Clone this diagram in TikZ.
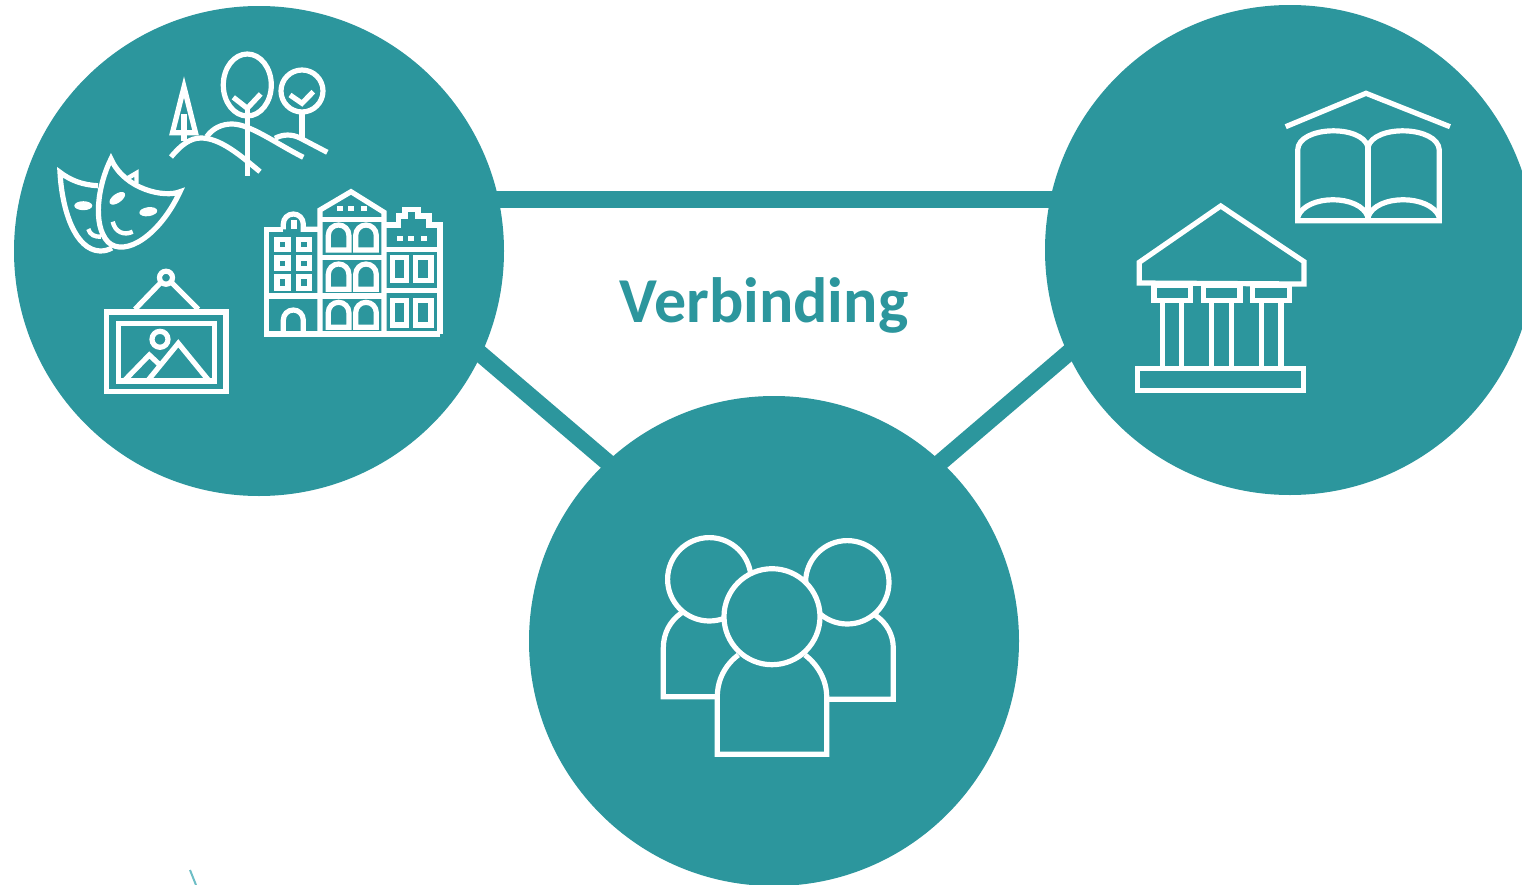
\documentclass[tikz,border=0pt]{standalone}
\usepackage{fontspec}
\setmainfont{Carlito}
\definecolor{tealfill}{RGB}{44,150,157}
\definecolor{tealtick}{RGB}{110,190,198}
\tikzset{every picture/.style={line width=0.75pt}}
\tikzset{
  hub/.style={circle,fill=tealfill,inner sep=0pt,minimum size=367.5pt},
  linkline/.style={draw=tealfill,line width=12.75pt,shorten >=-6pt,shorten <=-6pt},
  iconline/.style={draw=white,line width=3.9pt,line join=miter},
  iconthin/.style={draw=white,line width=3.3pt,line join=miter},
  iconhead/.style={draw=white,fill=tealfill,line width=3.9pt}
}

\begin{document}
\begin{tikzpicture}[x=0.75pt,y=0.75pt,yscale=-1,xscale=1]
\clip (0,0) rectangle (1522,885);

% Circles
\draw (259,251) node [hub] (culture) {};
\draw (1290,250) node [hub] (heritage) {};
\draw (774,641) node [hub] (people) {};

%Straight Lines
\draw [linkline] (culture.12) -- (culture.12 -| heritage.west);
\draw [linkline] (culture.-25.1) -- (people.133);
\draw [linkline] (heritage.205.2) -- (people.47.4);

% Text Node
\draw (764,305.5) node [inner sep=0.75pt,text=tealfill,font=\fontsize{48}{48}\selectfont\bfseries] (verbinding) {Verbinding};

%Small tick
\coordinate (tickA) at (190,870);
\coordinate (tickB) at (196,885);
\draw [draw=tealtick,line width=1.5pt] (tickA) -- (tickB);

%Trees and hills
\draw [iconline] (247.3,85) ellipse [x radius=24,y radius=31];
\draw [iconline] (247.3,107) -- (247.3,176);
\draw [iconline] (233.3,97.3) -- (247.3,108.3) -- (260.7,94);
\draw [iconline] (302,91) circle [radius=21];
\draw [iconline] (302,110) -- (302,138);
\draw [iconline] (290,95) -- (302,103.3) -- (313.3,91.7);
\draw [iconline] (184,87) -- (172.5,132.7) -- (195.5,132.7) -- cycle;
\draw [iconline] (184,114) -- (184,141);
\draw [iconline] (171,157) .. controls (181,145) and (190,138) .. (201,138) .. controls (220,138) and (240,155) .. (260,171.7);
\draw [iconline] (206.7,136.7) .. controls (213,128) and (222,124) .. (232,124) .. controls (250,124) and (275,143) .. (303.3,157.3);
\draw [iconline] (275,138.3) .. controls (283,134) and (292,134) .. (300,138) -- (327.3,152.3);

%Masks
\draw [iconline] (98,185.7) .. controls (82,185) and (70,180) .. (60,172.3) .. controls (62,210) and (75,250) .. (100,251) .. controls (105,251) and (108,250) .. (112,248);
\draw [iconline,fill=tealfill] (111,159) .. controls (98,185) and (92,225) .. (108,242) .. controls (125,258) and (160,235) .. (180,191.7) .. controls (165,198) and (125,190) .. (111,159) -- cycle;
\draw [iconthin] (128,178) -- (136.5,173) -- (136.5,183);
\fill [white] (83.3,205.7) ellipse [x radius=9,y radius=4.5];
\fill [white,rotate around={-35:(117.3,198.3)}] (117.3,198.3) ellipse [x radius=9,y radius=4.5];
\fill [white,rotate around={-8:(148.3,211.7)}] (148.3,211.7) ellipse [x radius=9,y radius=4.5];
\draw [iconthin] (112.7,221.7) .. controls (115,232) and (124,236) .. (132.7,231.7);
\draw [iconthin] (88.3,229) .. controls (90,235) and (95,237) .. (101,236.7);

%Framed picture
\draw [iconline] (106.7,312) rectangle (226,391.7);
\draw [iconline] (118.3,323.3) rectangle (214.3,381);
\draw [iconline] (166,277.7) circle [radius=6.5];
\draw [iconline] (135,309.3) -- (160.7,282.7);
\draw [iconline] (198.3,309.3) -- (171.7,282.7);
\draw [iconline] (160,339.3) circle [radius=8];
\draw [iconline] (148.3,380) -- (178.3,343.3) -- (208.3,380);
\draw [iconline] (125,380) -- (149.3,355) -- (160,365);

%Left house
\draw [iconline] (283.3,229.3) -- (266.7,229.3) -- (266.7,334) -- (440,334);
\draw [iconline] (283.3,229.3) -- (283.3,224) arc [start angle=180,end angle=360,radius=10] -- (303.3,229.3) -- (320,229.3);
\fill [white] (290.5,220) rectangle (296.5,229);
\foreach \wx in {277,298.5}
  \foreach \wy/\wh in {239.3/10.5,258/10.5,276.7/12}
    \draw [iconline] (\wx,\wy) rectangle ++(11,\wh);
\draw [iconline] (266.7,296) -- (384,296);
\draw [iconline] (283.3,334) -- (283.3,320) arc [start angle=180,end angle=360,radius=10] -- (303.3,334);

%Middle house
\draw [iconline] (320,334) -- (320,210) -- (351,191.7) -- (384,212.3) -- (384,334);
\draw [iconline] (320,219.3) -- (384,219.3);
\draw [iconline] (320,257.3) -- (384,257.3);
\foreach \sx in {340,351,364}
  \fill [white] (\sx-2.8,205.6) rectangle (\sx+2.8,211);
\foreach \wx in {328.3,355.7}
  \foreach \wy/\wb in {225/250,264/289.3,302.3/327.3}
    \draw [iconline] (\wx,\wb) -- (\wx,\wy+10.3) arc [start angle=180,end angle=360,radius=10.3] -- (\wx+20.6,\wb) -- cycle;

%Right house
\draw [iconline] (384,225) -- (398.3,225) -- (398.3,216) -- (405,216) -- (405,209.5) -- (418,209.5) -- (418,216) -- (429,216) -- (429,225) -- (440,225) -- (440,334);
\draw [iconline] (384,249.3) -- (440,249.3);
\draw [iconline] (384,290.7) -- (440,290.7);
\foreach \sx in {400,410.7,424}
  \fill [white] (\sx-2.8,235.6) rectangle (\sx+2.8,241);
\foreach \wx/\ww in {392.3/14.4,415.7/15.3}
  \foreach \wy/\wh in {257.7/23,300.7/24.3}
    \draw [iconline] (\wx,\wy) rectangle ++(\ww,\wh);

%Book
\draw [iconline] (1285.7,126.7) -- (1366,93.3) -- (1450,126.7);
\draw [iconline] (1297.7,220.7) -- (1297.7,150) .. controls (1298,126) and (1362,124) .. (1368,147) .. controls (1374,124) and (1438,126) .. (1439.3,150) -- (1439.3,220.7) -- cycle;
\draw [iconline] (1368,147) -- (1368,222);
\draw [iconline] (1297.7,217) .. controls (1306,194) and (1360,194) .. (1368,217) .. controls (1376,194) and (1430,194) .. (1439.3,217);

%Temple
\draw [iconline] (1139.3,283) -- (1139.3,262.3) -- (1220.7,206) -- (1304,261.7) -- (1304,284) -- cycle;
\foreach \cx in {1154,1203.3,1252.7}
  \draw [iconline] (\cx,285) rectangle ++(36.7,15.7);
\foreach \cx in {1162.3,1181.7,1211.7,1231.7,1261.7,1281}
  \draw [iconline] (\cx,300.7) -- (\cx,367);
\draw [iconline] (1137.7,368.3) rectangle (1303.3,390.7);

%People
\draw [iconline] (681.7,612.7) .. controls (670,621) and (663.3,633) .. (663.3,648.3) -- (663.3,696.7) -- (716,696.7);
\draw [iconline] (875,615) .. controls (887,623) and (893.3,635) .. (893.3,648.3) -- (893.3,699.3) -- (828,699.3);
\draw [iconhead] (709.3,579.3) circle [radius=41.7];
\draw [iconhead] (847.3,582.3) circle [radius=41.7];
\draw [iconhead] (772,616.7) circle [radius=48];
\draw [iconline] (738.3,655) .. controls (725,665) and (717.3,680) .. (717.3,697) -- (717.3,754.3) -- (826.7,754.3) -- (826.7,697) .. controls (826.7,680) and (818,665) .. (805,655);

\end{tikzpicture}
\end{document}
